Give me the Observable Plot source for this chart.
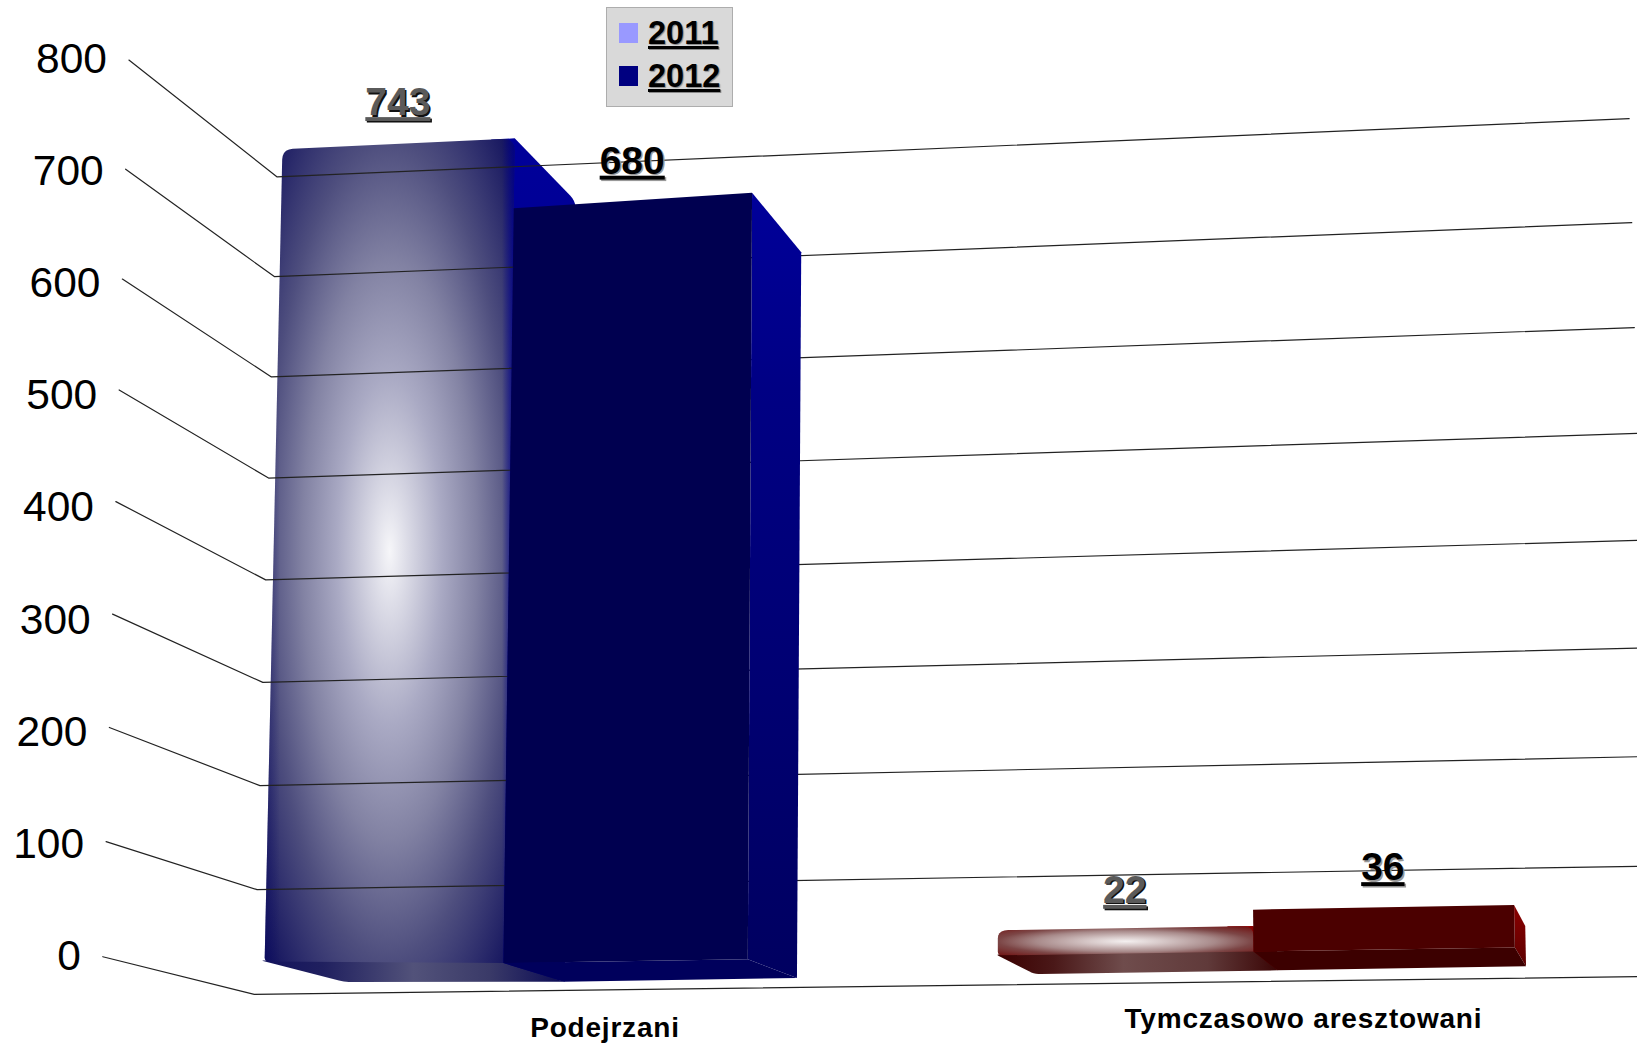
<!DOCTYPE html>
<html><head><meta charset="utf-8">
<style>
html,body{margin:0;padding:0;background:#fff;overflow:hidden}
#wrap{position:relative;width:1637px;height:1046px}
#legend{position:absolute;left:606px;top:7px;width:127px;height:100px;box-sizing:border-box;background:#d9d9d9;border:1px solid #adadad;font:bold 32.5px "Liberation Sans",sans-serif;color:#000}
#legend div{position:absolute;left:12px;display:flex;align-items:center;height:44px}
#legend i{display:block;width:19px;height:20px;margin-right:10px}
#legend span{text-decoration:underline;text-shadow:1px 1px 1px #888}
</style>
<script src="https://cdn.jsdelivr.net/npm/d3@7"></script>
<script src="https://cdn.jsdelivr.net/npm/@observablehq/plot@0.6"></script>
</head><body><div id="wrap"></div>
<script>
const categories = ["Podejrzani", "Tymczasowo aresztowani"];
const series = ["2011", "2012"];
const values2011 = [743, 22];
const values2012 = [680, 36];
const yTicks = [0, 100, 200, 300, 400, 500, 600, 700, 800];
const legendColors = ["#9999ff", "#000080"];

// Perspective of the original 3D view, expressed in a 1568x1002 drawing space
const sq = v => v * v;
const tickL = v => ({x: 98 + 0.03125 * v, y: 916 - 1.1062 * v + 4.06e-5 * sq(v)});
const tickLabel = v => ({x: 77 + 0.03125 * v, y: 916 - 1.075 * v});
const cornerB = v => ({x: 243 + 0.0275 * v, y: 952 - 1.00625 * v + 3.44e-5 * sq(v)});
const farR = v => ({x: 1580 - 0.025 * v, y: 935 - 1.0625 * v + 4.4e-5 * sq(v)});
const baseX = p => 253 + 226 * p + 2.7 * p * p;
const baseY = x => 922 - (x - 482) * 0.0153 - 5 * Math.max(0, 1 - (x - 253) / 229);
const shear = x => 0.0229 - (x - 253) * 3.65e-5;
const rise = x => 1.047 + (x - 253) * 7.1e-5;
const depthX = x => 70 - 0.0495 * (x - 253);
const depthY = v => 18 + 0.0574 * v;
function P(p, v, d) {
  const xb = baseX(p);
  return {x: xb + v * shear(xb) + d * depthX(xb), y: baseY(xb) - v * rise(xb) + d * depthY(v)};
}
function rounded(pts, rs) {
  const out = [], n = pts.length;
  pts.forEach((c, i) => {
    const a = pts[(i + n - 1) % n], b = pts[(i + 1) % n], r = rs[i];
    if (!r) { out.push(c); return; }
    const la = Math.hypot(a.x - c.x, a.y - c.y), lb = Math.hypot(b.x - c.x, b.y - c.y);
    const ra = Math.min(r, la / 3) / la, rb = Math.min(r, lb / 3) / lb;
    const s = {x: c.x + (a.x - c.x) * ra, y: c.y + (a.y - c.y) * ra};
    const e = {x: c.x + (b.x - c.x) * rb, y: c.y + (b.y - c.y) * rb};
    for (const t of d3.range(0, 1.01, 0.2)) out.push({
      x: (1 - t) * (1 - t) * s.x + 2 * t * (1 - t) * c.x + t * t * e.x,
      y: (1 - t) * (1 - t) * s.y + 2 * t * (1 - t) * c.y + t * t * e.y
    });
  });
  return out;
}
const poly = (pts, fill) => Plot.line(pts, {x: "x", y: "y", fill, stroke: "none", curve: "linear-closed"});

function defs() {
  const d = d3.create("svg:defs");
  const grad = (type, id, attrs, stops) => {
    const g = d.append(type).attr("id", id);
    Object.entries(attrs).forEach(([k, v]) => g.attr(k, v));
    stops.forEach(([o, c, a = 1]) => g.append("stop").attr("offset", o).attr("stop-color", c).attr("stop-opacity", a));
  };
  const H = {x1: 0, x2: 1, y1: 0, y2: 0}, V = {x1: 0, x2: 0, y1: 0, y2: 1};
  grad("radialGradient", "face0", {cx: .5, cy: .5, r: .7}, [[0, "#f6f6f9"], [.1, "#dcdce7"], [.3, "#aaaac4"], [.5, "#8282a3"], [.71, "#4e4e7e"], [1, "#10105c"]]);
  grad("linearGradient", "edge0", H, [[0, "#0c0c62", .5], [.06, "#0c0c62", 0], [.95, "#00008a", 0], [1, "#00008a", .85]]);
  grad("linearGradient", "strip0", H, [[0, "#12125c"], [.2, "#20205f"], [.5, "#52527a"], [.75, "#3a3a68"], [1, "#0a0a55"]]);
  grad("linearGradient", "side0", V, [[0, "#00009a"], [1, "#000070"]]);
  grad("linearGradient", "side1", V, [[0, "#00009a"], [.25, "#000084"], [1, "#000060"]]);
  grad("radialGradient", "face2", {cx: .5, cy: .52, r: .7}, [[0, "#f4f0f0"], [.2, "#d8caca"], [.5, "#a88a8a"], [.71, "#7c4646"], [1, "#701010"]]);
  grad("linearGradient", "strip2", H, [[0, "#3a0000"], [.2, "#4a1818"], [.45, "#6f4c4c"], [.75, "#603a3a"], [1, "#3a0505"]]);
  grad("linearGradient", "side3", V, [[0, "#8a0000"], [1, "#5c0000"]]);
  return d.node();
}

const marks = [() => defs()];
// 2011 bars (rounded, shaded), behind the grid lines
values2011.forEach((v, i) => {
  const p = i * 3, k = i === 0 ? ["side0", "strip0", "face0"] : ["side3", "strip2", "face2"];
  const deep = i === 0 ? 1.1 : 1;
  marks.push(poly(rounded([P(p + .9, v, 0), P(p + 1, v, 0), P(p + 1, v, 1), P(p + 1, 0, 1), P(p + .9, 0, 0)], [0, 0, 8, 0, 0]), `url(#${k[0]})`));
  marks.push(poly(rounded([P(p, 0, -.05), P(p, 0, deep), P(p + 1, 0, 1), P(p + 1, 0, -.05)], [3, 6, 0, 0]), `url(#${k[1]})`));
  const face = rounded([P(p, v, 0), P(p + 1, v, 0), P(p + 1, 0, 0), P(p, 0, 0)], [10, 12, 0, 4]);
  marks.push(poly(face, `url(#${k[2]})`));
  if (i === 0) marks.push(poly(face, "url(#edge0)"));
});
// Grid: wall lines with their side-wall returns to the tick labels
const gridData = yTicks.flatMap(v => [tickL(v), cornerB(v), farR(v)].map(q => ({...q, v})));
marks.push(Plot.line(gridData, {x: "x", y: "y", z: "v", stroke: "#222", strokeWidth: 1.2}));
// 2012 bars (flat box), in front of the grid lines
values2012.forEach((v, i) => {
  const p = i * 3 + 1, k = i === 0 ? ["url(#side1)", "#00005c", "#000050"] : ["url(#side3)", "#3c0000", "#4b0000"];
  marks.push(poly([P(p + 1, v, 0), P(p + 1, v, 1), P(p + 1, 0, 1), P(p + 1, 0, 0)], k[0]));
  marks.push(poly([P(p, 0, 0), P(p, 0, 1), P(p + 1, 0, 1), P(p + 1, 0, 0)], k[1]));
  marks.push(poly([P(p, v, 0), P(p + 1, v, 0), P(p + 1, 0, 0), P(p, 0, 0)], k[2]));
});
// Tick labels
marks.push(Plot.text(yTicks, {
  x: v => tickLabel(v).x, y: v => tickLabel(v).y, text: v => String(v), textAnchor: "end",
  fontSize: 42.5, fontFamily: "Liberation Sans", fill: "#000"
}));
// Value labels
const labelData = [
  ...values2011.map((v, i) => { const q = P(i * 3 + .5, v, 0); return {x: q.x, y: q.y - 36 - .0047 * v, v, s: 0}; }),
  ...values2012.map((v, i) => { const q = P(i * 3 + 1.5, v, 0); return {x: q.x, y: q.y - 38 + .0005 * v, v, s: 1}; })
];
const valueText = (data, fill, dx, dy) => Plot.text(data, {
  x: "x", y: "y", text: d => String(d.v), fill, dx, dy,
  fontSize: 39, fontWeight: "bold", fontFamily: "Liberation Sans"
});
marks.push(valueText(labelData.filter(d => d.s === 0), "#111", 1.5, 1.5));
marks.push(valueText(labelData.filter(d => d.s === 0), "#5a5a5a", 0, 0));
marks.push(valueText(labelData.filter(d => d.s === 1), "#999", 1.5, 1.5));
marks.push(valueText(labelData.filter(d => d.s === 1), "#000", 0, 0));
// Category labels sit on the floor below each group
const catPos = categories.map((c, i) => {
  const f = i === 0 ? {x: 579, y: 984} : {x: 1248, y: 976};
  return {c, ...f};
});
marks.push(Plot.text(catPos, {
  x: "x", y: "y", text: "c", fontSize: 28, fontWeight: "bold", fontFamily: "Liberation Sans", fill: "#000"
}));

const chart = Plot.plot({
  width: 1637, height: 1046, margin: 0,
  x: {axis: null, type: "linear", domain: [0, 1568], range: [0, 1637]},
  y: {axis: null, type: "linear", domain: [0, 1002], range: [0, 1046]},
  marks
});
chart.style.background = "#fff";
const valueStrings = new Set([...values2011, ...values2012].map(String));
chart.querySelectorAll("text").forEach(t => {
  if (valueStrings.has(t.textContent)) t.style.textDecoration = "underline";
  if (categories.includes(t.textContent)) t.style.letterSpacing = "0.8px";
});
const wrap = document.getElementById("wrap");
wrap.appendChild(chart);
const lg = document.createElement("div");
lg.id = "legend";
series.forEach((s, i) => {
  const r = document.createElement("div");
  r.style.top = (3 + i * 43) + "px";
  r.innerHTML = `<i style="background:${legendColors[i]}"></i><span>${s}</span>`;
  lg.appendChild(r);
});
wrap.appendChild(lg);
</script></body></html>
